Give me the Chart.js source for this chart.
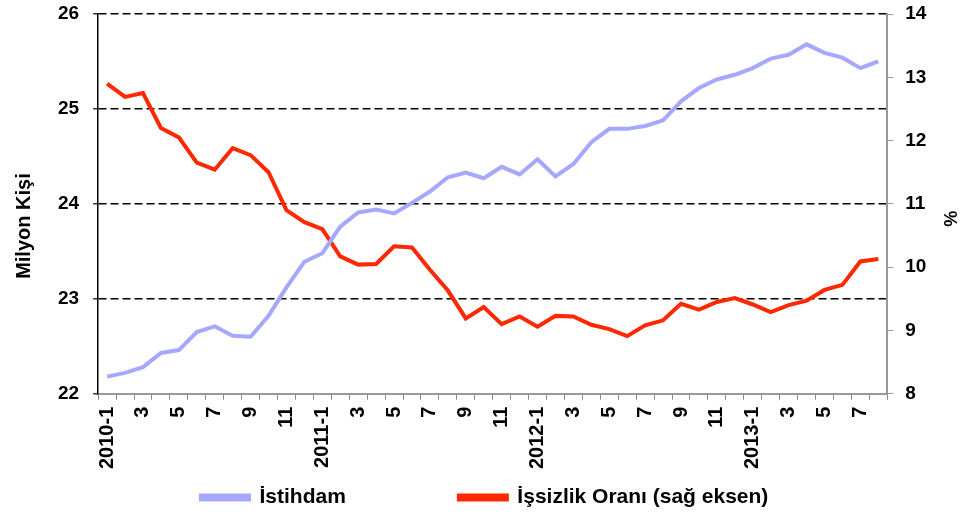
<!DOCTYPE html>
<html>
<head>
<meta charset="utf-8">
<script src="https://cdn.jsdelivr.net/npm/chart.js@4.4.0/dist/chart.umd.min.js"></script>
<style>
  html, body { margin: 0; padding: 0; background: #fff; }
  #wrap { width: 961px; height: 515px; }
</style>
</head>
<body>
<div id="wrap"><canvas id="chart" width="961" height="515"></canvas></div>
<script>
// aylar 2010-1 .. 2013-8
const months = [
  '2010-1', '2', '3', '4', '5', '6', '7', '8', '9', '10', '11', '12',
  '2011-1', '2', '3', '4', '5', '6', '7', '8', '9', '10', '11', '12',
  '2012-1', '2', '3', '4', '5', '6', '7', '8', '9', '10', '11', '12',
  '2013-1', '2', '3', '4', '5', '6', '7', '8'
];

// İstihdam (milyon kişi)
const istihdam = [
  22.18, 22.22, 22.28, 22.43, 22.46, 22.65, 22.71, 22.61, 22.60, 22.82, 23.12, 23.39,
  23.48, 23.76, 23.91, 23.94, 23.90, 24.01, 24.13, 24.28, 24.33, 24.27, 24.39, 24.31,
  24.47, 24.29, 24.42, 24.65, 24.79, 24.79, 24.82, 24.88, 25.08, 25.22, 25.31, 25.36,
  25.43, 25.53, 25.57, 25.68, 25.59, 25.54, 25.43, 25.50
];

// İşsizlik oranı (%)
const issizlik = [
  12.90, 12.69, 12.75, 12.20, 12.05, 11.65, 11.54, 11.88, 11.77, 11.50, 10.90, 10.71,
  10.60, 10.17, 10.04, 10.05, 10.33, 10.31, 9.96, 9.63, 9.19, 9.37, 9.10, 9.22,
  9.06, 9.23, 9.22, 9.09, 9.02, 8.91, 9.08, 9.16, 9.42, 9.33, 9.45, 9.51,
  9.41, 9.29, 9.40, 9.47, 9.64, 9.72, 10.09, 10.13
];

const fontFam = '"Liberation Sans", Arial, sans-serif';
const blue = 'rgb(166, 168, 255)';
const red = 'rgb(255, 40, 0)';

// legend'i kaydır (ilk kutu x=201'de başlasın, biraz aşağı)
const legendShift = {
  id: 'legendShift',
  afterLayout(chart) {
    const lg = chart.legend;
    if (!lg) return;
    const dx = 201 - (lg.left + lg.options.labels.padding);
    lg.left += dx;
    lg.right += dx;
    lg.top += 3;
    lg.bottom += 3;
  }
};

// y eksenlerinin etiket taşma payını kaldır
function noVertPad(scale) {
  scale.paddingTop = 0;
  scale.paddingBottom = 0;
}

new Chart(document.getElementById('chart'), {
  type: 'line',
  data: {
    labels: months,
    datasets: [
      {
        label: 'İstihdam',
        data: istihdam,
        borderColor: blue,
        backgroundColor: blue,
        borderWidth: 4,
        pointRadius: 0,
        tension: 0,
        yAxisID: 'y'
      },
      {
        label: 'İşsizlik Oranı (sağ eksen)',
        data: issizlik,
        borderColor: red,
        backgroundColor: red,
        borderWidth: 4,
        pointRadius: 0,
        tension: 0,
        yAxisID: 'y1'
      }
    ]
  },
  options: {
    responsive: false,
    animation: false,
    layout: { padding: { top: 14, right: 1, left: 12, bottom: 0 } },
    plugins: {
      tooltip: { enabled: false },
      legend: {
        position: 'bottom',
        align: 'start',
        labels: {
          boxWidth: 48,
          boxHeight: 4,
          padding: 8,
          color: '#000',
          font: { family: fontFam, size: 21, weight: 'bold' },
          generateLabels(chart) {
            const items = Chart.defaults.plugins.legend.labels.generateLabels(chart);
            // öğeler arası boşluk
            items[0].text = items[0].text + ' '.repeat(18);
            return items;
          }
        }
      }
    },
    scales: {
      x: {
        offset: true,
        grid: {
          offset: true,
          drawOnChartArea: false,
          color: '#888',
          tickLength: 6
        },
        border: { color: '#999', width: 2 },
        ticks: {
          autoSkip: false,
          minRotation: 90,
          maxRotation: 90,
          color: '#000',
          padding: 7,
          font: { family: fontFam, size: 20, weight: 'bold' },
          callback: function (v, i) { return i % 2 === 0 ? months[i] : ''; }
        }
      },
      y: {
        position: 'left',
        min: 22,
        max: 26,
        afterFit: noVertPad,
        ticks: {
          stepSize: 1,
          color: '#000',
          padding: 14,
          font: { family: fontFam, size: 19, weight: 'bold' }
        },
        grid: {
          color: function (ctx) { return ctx.tick && ctx.tick.value === 22 ? 'rgba(0,0,0,0)' : '#000'; },
          lineWidth: 1.5,
          tickColor: '#333',
          tickLength: 5,
          tickBorderDash: []
        },
        border: { color: '#000', width: 1.5, dash: [8, 4] },
        title: {
          display: true,
          text: 'Milyon Kişi' + ' '.repeat(8),
          color: '#000',
          padding: { top: 0, bottom: 8 },
          font: { family: fontFam, size: 20, weight: 'bold' }
        }
      },
      y1: {
        position: 'right',
        min: 8,
        max: 14,
        afterFit: noVertPad,
        ticks: {
          stepSize: 1,
          color: '#000',
          padding: 12,
          font: { family: fontFam, size: 19, weight: 'bold' }
        },
        grid: {
          drawOnChartArea: false,
          color: '#999',
          tickLength: 6
        },
        border: { color: '#999', width: 2 },
        title: {
          display: true,
          text: ' '.repeat(6) + '%',
          color: '#000',
          padding: { top: 0, bottom: 0 },
          font: { family: fontFam, size: 18, weight: 'bold' }
        }
      }
    }
  },
  plugins: [legendShift]
});
</script>
</body>
</html>
